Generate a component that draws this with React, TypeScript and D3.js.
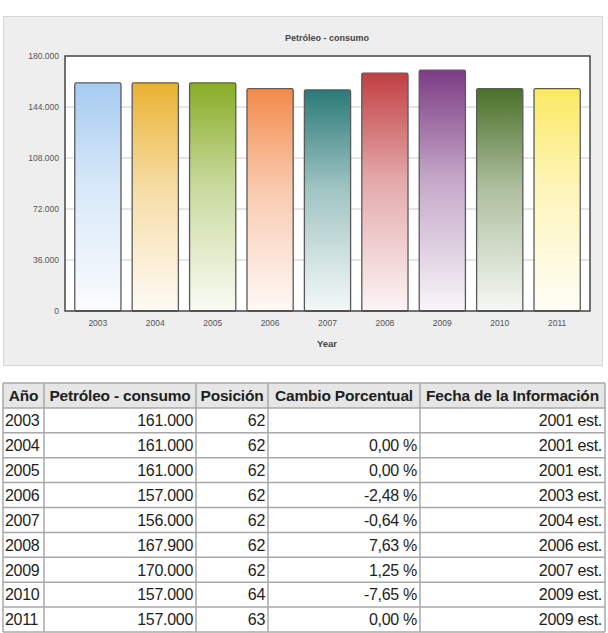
import { useRef, useEffect } from "react";
import * as d3 from "d3";

const years = ["2003", "2004", "2005", "2006", "2007", "2008", "2009", "2010", "2011"];
const consumo = [161000, 161000, 161000, 157000, 156000, 167900, 170000, 157000, 157000];
const posicion = [62, 62, 62, 62, 62, 62, 62, 64, 63];
const cambio = [null, 0, 0, -2.48, -0.64, 7.63, 1.25, -7.65, 0];
const fecha = ["2001 est.", "2001 est.", "2001 est.", "2003 est.", "2004 est.", "2006 est.", "2007 est.", "2009 est.", "2009 est."];
const barColors = ["#a6cbf0", "#eab232", "#88ac26", "#f28a4a", "#2b7b79", "#c23f42", "#7c3b84", "#4b7129", "#fbe963"];
const yTicks = [0, 36000, 72000, 108000, 144000, 180000];
const headers = ["Año", "Petróleo - consumo", "Posición", "Cambio Porcentual", "Fecha de la Información"];

const W = 608;
const H = 633;

const locale = d3.formatLocale({ decimal: ",", thousands: ".", grouping: [3], currency: ["", ""], minus: "-" });
const fmtThousands = locale.format(",d");
const fmtPct = locale.format(".2f");

function App() {
  const svgRef = useRef<SVGSVGElement>(null);

  useEffect(() => {
    drawChart();
  }, []);

  function drawChart() {
    if (!svgRef.current) return;
    const svg = d3.select(svgRef.current);
    svg.selectAll("*").remove();

    const font = "'Liberation Sans', Arial, sans-serif";

    // chart panel
    svg
      .append("rect")
      .attr("x", 3.5)
      .attr("y", 16.5)
      .attr("width", 599)
      .attr("height", 349)
      .attr("fill", "#eeeeee")
      .attr("stroke", "#d6d6d6");

    svg
      .append("text")
      .text("Petróleo - consumo")
      .attr("x", 327)
      .attr("y", 41)
      .attr("text-anchor", "middle")
      .attr("font-family", font)
      .attr("font-size", "9px")
      .attr("font-weight", "bold")
      .attr("fill", "#444");

    const margin = { left: 65, right: 590, top: 56, bottom: 311 };

    const x = d3
      .scaleBand()
      .domain(years)
      .range([margin.left, margin.right])
      .paddingInner(0.195)
      .paddingOuter(0.17);

    const y = d3.scaleLinear().domain([0, 180000]).range([margin.bottom, margin.top]);

    svg
      .append("rect")
      .attr("x", margin.left)
      .attr("y", margin.top)
      .attr("width", margin.right - margin.left)
      .attr("height", margin.bottom - margin.top)
      .attr("fill", "#ffffff");

    // grid
    svg
      .append("g")
      .selectAll("line")
      .data(yTicks.slice(1, -1))
      .join("line")
      .attr("x1", margin.left)
      .attr("x2", margin.right)
      .attr("y1", (d) => y(d))
      .attr("y2", (d) => y(d))
      .attr("stroke", "#dddddd")
      .attr("stroke-width", 1.5);

    // gradients, colour at top fading to white
    const defs = svg.append("defs");
    barColors.forEach((c, i) => {
      const g = defs
        .append("linearGradient")
        .attr("id", "grad" + i)
        .attr("x1", 0)
        .attr("x2", 0)
        .attr("y1", 0)
        .attr("y2", 1);
      g.append("stop").attr("offset", "0%").attr("stop-color", c);
      g.append("stop").attr("offset", "45%").attr("stop-color", d3.interpolateRgb(c, "#ffffff")(0.55));
      g.append("stop").attr("offset", "100%").attr("stop-color", d3.interpolateRgb(c, "#ffffff")(0.95));
    });

    svg
      .append("g")
      .selectAll("rect")
      .data(consumo)
      .join("rect")
      .attr("x", (_, i) => x(years[i])!)
      .attr("y", (d) => y(d))
      .attr("width", x.bandwidth())
      .attr("height", (d) => y(0) - y(d))
      .attr("rx", 1.5)
      .attr("fill", (_, i) => `url(#grad${i})`)
      .attr("stroke", "#5a5a5a")
      .attr("stroke-width", 1.3);

    // plot frame
    svg
      .append("rect")
      .attr("x", margin.left)
      .attr("y", margin.top)
      .attr("width", margin.right - margin.left)
      .attr("height", margin.bottom - margin.top)
      .attr("fill", "none")
      .attr("stroke", "#444")
      .attr("stroke-width", 1.5);

    svg
      .append("g")
      .selectAll("text")
      .data(yTicks)
      .join("text")
      .text((d) => fmtThousands(d))
      .attr("x", margin.left - 6)
      .attr("y", (d) => y(d))
      .attr("dy", "0.35em")
      .attr("text-anchor", "end")
      .attr("font-family", font)
      .attr("font-size", "8.5px")
      .attr("fill", "#555");

    svg
      .append("g")
      .selectAll("text")
      .data(years)
      .join("text")
      .text((d) => d)
      .attr("x", (d) => x(d)! + x.bandwidth() / 2)
      .attr("y", 326)
      .attr("text-anchor", "middle")
      .attr("font-family", font)
      .attr("font-size", "8.5px")
      .attr("fill", "#555");

    svg
      .append("text")
      .text("Year")
      .attr("x", 327)
      .attr("y", 347)
      .attr("text-anchor", "middle")
      .attr("font-family", font)
      .attr("font-size", "9.5px")
      .attr("font-weight", "bold")
      .attr("fill", "#444");

    // table
    const colEdges = [3, 44, 196, 268, 420, 605];
    const top = 383;
    const rowH = 24.9;
    const nRows = years.length + 1;

    svg
      .append("rect")
      .attr("x", colEdges[0])
      .attr("y", top)
      .attr("width", colEdges[5] - colEdges[0])
      .attr("height", rowH)
      .attr("fill", "#e6e6e6");

    const tbl = svg.append("g");
    d3.range(nRows + 1).forEach((r) => {
      tbl
        .append("line")
        .attr("x1", colEdges[0])
        .attr("x2", colEdges[5])
        .attr("y1", top + r * rowH)
        .attr("y2", top + r * rowH)
        .attr("stroke", "#a8a8a8")
        .attr("stroke-width", 1.5);
    });
    colEdges.forEach((cx) => {
      tbl
        .append("line")
        .attr("x1", cx)
        .attr("x2", cx)
        .attr("y1", top)
        .attr("y2", top + nRows * rowH)
        .attr("stroke", "#a8a8a8")
        .attr("stroke-width", 1.5);
    });

    headers.forEach((h, i) => {
      tbl
        .append("text")
        .text(h)
        .attr("x", (colEdges[i] + colEdges[i + 1]) / 2)
        .attr("y", top + rowH / 2)
        .attr("dy", "0.36em")
        .attr("text-anchor", "middle")
        .attr("font-family", font)
        .attr("font-size", "15.5px")
        .attr("font-weight", "bold")
        .attr("letter-spacing", "-0.2px")
        .attr("fill", "#1e1e1e");
    });

    years.forEach((yr, r) => {
      const cy = top + (r + 1) * rowH + rowH / 2;
      const cells = [
        yr,
        fmtThousands(consumo[r]),
        String(posicion[r]),
        cambio[r] === null ? "" : fmtPct(cambio[r] as number) + " %",
        fecha[r],
      ];
      cells.forEach((t, c) => {
        const left = c === 0;
        tbl
          .append("text")
          .text(t)
          .attr("x", left ? colEdges[c] + 2 : colEdges[c + 1] - 3)
          .attr("y", cy)
          .attr("dy", "0.36em")
          .attr("text-anchor", left ? "start" : "end")
          .attr("font-family", font)
          .attr("font-size", "16px")
          .attr("letter-spacing", "-0.3px")
          .attr("fill", "#1e1e1e");
      });
    });
  }

  return (
    <svg
      ref={svgRef}
      width={W}
      height={H}
      style={{ position: "absolute", top: 0, left: 0, background: "#ffffff" }}
    />
  );
}

export default App;
